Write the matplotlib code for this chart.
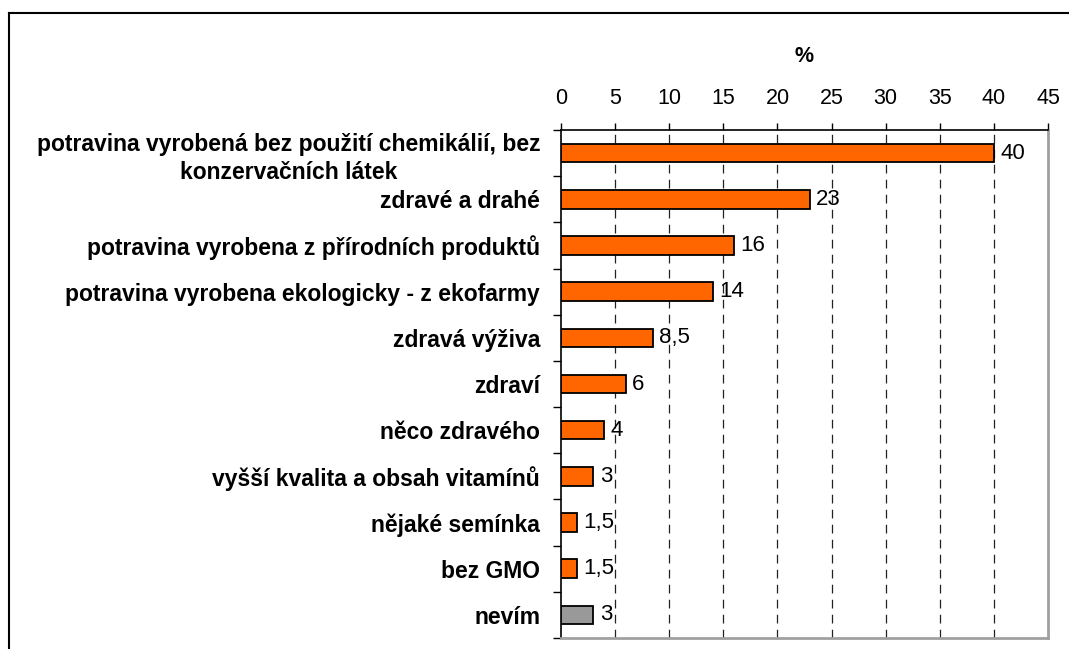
import numpy as np
import matplotlib
matplotlib.use("Agg")
import matplotlib.pyplot as plt
from matplotlib.lines import Line2D

plt.rcParams["font.family"] = ["Liberation Sans", "DejaVu Sans"]

categories = [
    "potravina vyrobená bez použití chemikálií, bez\nkonzervačních látek",
    "zdravé a drahé",
    "potravina vyrobena z přírodních produktů",
    "potravina vyrobena ekologicky - z ekofarmy",
    "zdravá výživa",
    "zdraví",
    "něco zdravého",
    "vyšší kvalita a obsah vitamínů",
    "nějaké semínka",
    "bez GMO",
    "nevím",
]
values = [40, 23, 16, 14, 8.5, 6, 4, 3, 1.5, 1.5, 3]
value_labels = ["40", "23", "16", "14", "8,5", "6", "4", "3", "1,5", "1,5", "3"]
colors = ["#FF6600"] * 10 + ["#999999"]

W, H = 1069, 649
fig = plt.figure(figsize=(W / 100, H / 100), dpi=100)
ax = fig.add_axes([561 / W, 1 - 638 / H, (1048 - 561) / W, (638 - 130) / H])

y = np.arange(len(categories))
ax.barh(y, values, height=0.40, color=colors, edgecolor="black", linewidth=1.3, zorder=3)
ax.set_ylim(len(categories) - 0.5, -0.5)
ax.set_xlim(0, 45)

for yi, v, lab in zip(y, values, value_labels):
    ax.annotate(lab, (v, yi), xytext=(4.5, 0), textcoords="offset points",
                ha="left", va="center", fontsize=16, zorder=4)

# svislá mřížka
for gx in range(5, 45, 5):
    ax.axvline(gx, color="#222222", linewidth=0.9, linestyle=(0, (7, 5)), zorder=1)

ax.xaxis.tick_top()
ax.xaxis.set_label_position("top")
ax.set_xticks(np.arange(0, 46, 5))
ax.tick_params(axis="x", direction="out", length=5, width=1, labelsize=15.5, pad=10)
ax.set_xlabel("%", fontsize=15.5, fontweight="bold", labelpad=19)

ax.set_yticks(np.arange(-0.5, len(categories), 1), minor=False)
ax.set_yticklabels([])
ax.set_yticks(y, minor=True)
ax.set_yticklabels(categories, minor=True, fontsize=16.5, fontweight="bold",
                   ha="right", multialignment="center", linespacing=1.3)
ax.tick_params(axis="y", which="major", direction="out", length=5.5, width=1)
ax.tick_params(axis="y", which="minor", length=0, pad=15)

for s in ["top", "left"]:
    ax.spines[s].set_color("black")
    ax.spines[s].set_linewidth(1.2)
for s in ["right", "bottom"]:
    ax.spines[s].set_color("#a0a0a0")
    ax.spines[s].set_linewidth(2)

# vnější rámeček (viditelná horní a levá hrana)
fig.add_artist(Line2D([9 / W, 9 / W], [0, 1 - 13 / H], transform=fig.transFigure, color="black", linewidth=1.5))
fig.add_artist(Line2D([9 / W, 1], [1 - 13 / H, 1 - 13 / H], transform=fig.transFigure, color="black", linewidth=1.5))

fig.savefig("out.png", dpi=100, facecolor="white")
